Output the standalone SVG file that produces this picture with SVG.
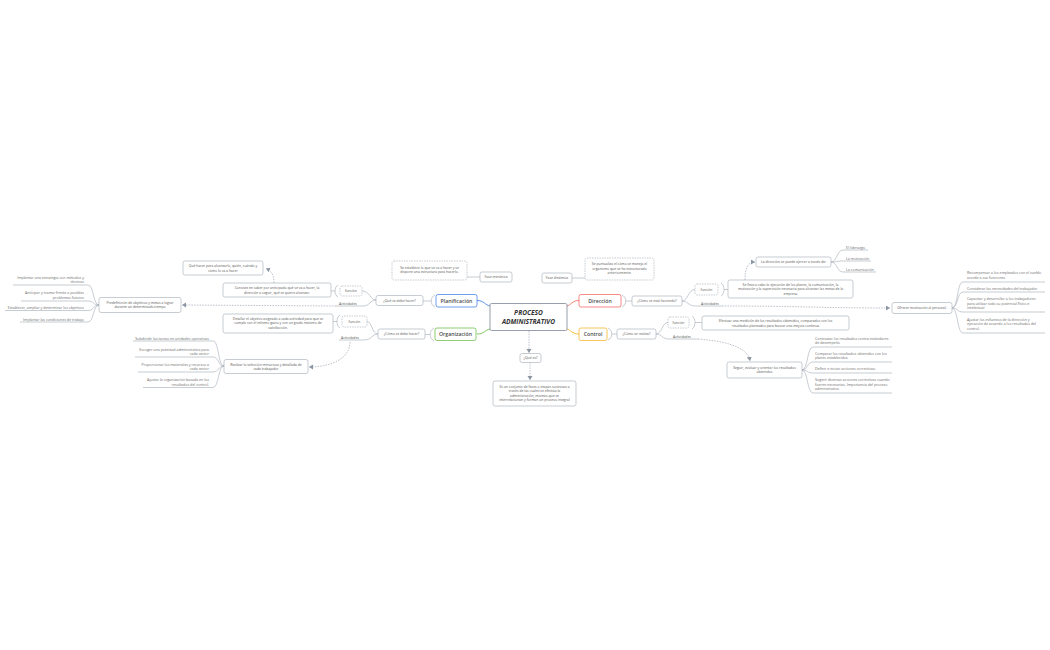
<svg xmlns="http://www.w3.org/2000/svg" width="1050" height="650" viewBox="0 0 1050 650">
<defs>
<marker id="ar" markerWidth="6" markerHeight="6" refX="4" refY="2.5" orient="auto" markerUnits="userSpaceOnUse">
<path d="M0,0 L4,2.5 L0,5 Z" fill="#8c96a3"/>
</marker>
<style>
.bx{fill:#fff;stroke:#a3abb5;stroke-width:0.6}
.db{fill:#fff;stroke:#a3abb5;stroke-width:0.6;stroke-dasharray:1.5,1}
.t{font-family:"Open Sans","Liberation Sans",sans-serif;font-size:3.4px;fill:#555;text-anchor:middle}
.l{font-family:"Open Sans","Liberation Sans",sans-serif;font-size:3.6px;fill:#6b6b6b}
.r{text-anchor:end}
.m{font-family:"Open Sans","Liberation Sans",sans-serif;font-size:5.2px;font-weight:600;fill:#4a4a4a;text-anchor:middle}
.c{font-family:"Open Sans","Liberation Sans",sans-serif;font-size:6.6px;font-weight:700;font-style:italic;fill:#333;text-anchor:middle}
.ln{fill:none;stroke:#a3abb5;stroke-width:0.6}
.dl{fill:none;stroke:#8c96a3;stroke-width:0.6;stroke-dasharray:1.5,1.2}
</style>
</defs>
<rect width="1050" height="650" fill="#fff"/>

<g id="connectors">
<path d="M477,300.5 C484,300.5 485,305 490,306" fill="none" stroke="#4a86e8" stroke-width="0.9"/>
<path d="M579,300.5 C572,300.5 571,305 567,306" fill="none" stroke="#f07067" stroke-width="0.9"/>
<path d="M477,334 C484,334 485,330 490,329" fill="none" stroke="#72c24e" stroke-width="0.9"/>
<path d="M579,334 C572,334 571,330 567,329" fill="none" stroke="#f5b731" stroke-width="0.9"/>
<path class="ln" d="M435,295 C430,297 430,305 435,307 M431,301 L423,301"/>
<path class="ln" d="M434,328 C429,330 429,339 434,341 M430,334.5 L425,334.5"/>
<path class="ln" d="M622,295 C627,297 627,305 622,307 M626,301 L632,301"/>
<path class="ln" d="M608,328 C613,330 613,338 608,340 M612,334 L617,334"/>
<path class="ln" d="M376,300 C370,300 370,291 362,291 M376,300 C370,300 370,306 363,306 L336,306"/>
<path class="ln" d="M338,285 C334,287 334,295 338,297 M335,291 L331,291"/>
<path class="ln" d="M378,334 C372,334 372,321.5 367,321.5 M378,334 C372,334 372,340 364,340 L339,340"/>
<path class="ln" d="M340,315 C336,317 336,326 340,328 M337,321.5 L333,321.5"/>
<path class="ln" d="M682,301 C688,301 688,289.5 695,289.5 M682,301 C688,301 688,306 696,306 L722,306"/>
<path class="ln" d="M721,283 C725,285 725,294 721,296 M724,289.5 L728,289.5"/>
<path class="ln" d="M656,334 C662,334 662,322.5 668,322.5 M656,334 C662,334 662,339 669,339 L698,339"/>
<path class="ln" d="M692,316 C696,318 696,327 692,329 M695,322.5 L702,322.5"/>
<path class="ln" d="M480,277 L467,277 M572,278 L585,278"/>
<path class="dl" marker-end="url(#ar)" d="M274,283 C274,276 272,271 266,268.5"/>
<path class="dl" marker-end="url(#ar)" d="M336,306 L182,305"/>
<path class="dl" marker-end="url(#ar)" d="M350,342 C350,358 332,367 309,367"/>
<path class="dl" marker-end="url(#ar)" d="M722,306 C800,306 820,308 890,308"/>
<path class="dl" marker-end="url(#ar)" d="M745,280 C745,268 748,262 755,262"/>
<path class="dl" marker-end="url(#ar)" d="M698,339 C735,342 748,350 750,361"/>
<path class="dl" marker-end="url(#ar)" d="M529,331 L529,353"/>
<path class="dl" marker-end="url(#ar)" d="M530,362 L530,380"/>
<path class="ln" d="M99,305 C93,305 94,285 88,285 L13,285 M99,305 C93,305 94,301 88,301 L21,301 M99,305 C93,305 94,310.5 88,310.5 L5,310.5 M99,305 C93,305 94,322 88,322 L20,322"/>
<path class="ln" d="M224,366 C218,366 219,341 213,341 L133,341 M224,366 C218,366 219,357 213,357 L135,357 M224,366 C218,366 219,372 213,372 L138,372 M224,366 C218,366 219,387.5 213,387.5 L143,387.5"/>
<path class="ln" d="M831,262 C837,262 837,250 843,250 L868,250 M831,262 C837,262 837,261 843,261 L871,261 M831,262 C837,262 837,272 843,272 L876,272"/>
<path class="ln" d="M952,308 C958,308 957,282 963,282 L1045,282 M952,308 C958,308 957,292 963,292 L1045,292 M952,308 C958,308 957,312 963,312 L1045,312 M952,308 C958,308 957,333 963,333 L1045,333"/>
<path class="ln" d="M802,370 C808,370 807,347 813,347 L892,347 M802,370 C808,370 807,362 813,362 L892,362 M802,370 C808,370 807,373 813,373 L892,373 M802,370 C808,370 807,393 813,393 L892,393"/>
</g>

<g id="center">
<rect x="490" y="303.5" width="77" height="27" rx="1.5" fill="#fff" stroke="#8a94a2" stroke-width="0.9"/>
<text class="c" x="528.5" y="315">PROCESO</text>
<text class="c" x="528.5" y="324">ADMINISTRATIVO</text>
</g>

<g id="planificacion">
<rect x="436" y="294.5" width="41" height="12.5" rx="2" fill="#fff" stroke="#4a86e8" stroke-width="0.8"/>
<text class="m" x="456.5" y="302.5">Planificación</text>
</g>
<g id="direccion">
<rect x="579" y="294.5" width="42" height="12.5" rx="2" fill="#fff" stroke="#f07067" stroke-width="0.8"/>
<text class="m" x="600" y="302.5">Dirección</text>
</g>
<g id="organizacion">
<rect x="435" y="328" width="41" height="12.5" rx="2" fill="#fff" stroke="#72c24e" stroke-width="0.8"/>
<text class="m" x="455.5" y="336">Organización</text>
</g>
<g id="control">
<rect x="579" y="328" width="28" height="12.5" rx="2" fill="#fff" stroke="#f5b731" stroke-width="0.8"/>
<text class="m" x="593" y="336">Control</text>
</g>

<g id="fase-mecanica">
<rect class="bx" x="480" y="272" width="32" height="10" rx="2"/>
<text class="t" x="496" y="278.2">Fase mecánica</text>
</g>
<g id="fase-mecanica-desc">
<rect class="db" x="392" y="261" width="75" height="19" rx="2"/>
<text class="t" x="429.5" y="268.5">Se establece lo que se va a hacer y se</text>
<text class="t" x="429.5" y="273">dispone una estructura para hacerlo.</text>
</g>
<g id="fase-dinamica">
<rect class="bx" x="542" y="273" width="30" height="10" rx="2"/>
<text class="t" x="557" y="279.2">Fase dinámica</text>
</g>
<g id="fase-dinamica-desc">
<rect class="db" x="585" y="258" width="69" height="22" rx="2"/>
<text class="t" x="619.5" y="265">Se puntualiza el cómo se maneja el</text>
<text class="t" x="619.5" y="269.5">organismo que se ha estructurado</text>
<text class="t" x="619.5" y="274">anteriormente.</text>
</g>

<g id="que-es">
<rect class="bx" x="520" y="353.5" width="21" height="9" rx="2"/>
<text class="t" x="530.5" y="359.2">¿Qué es?</text>
</g>
<g id="definicion">
<rect class="bx" x="493" y="381" width="83" height="25" rx="2"/>
<text class="t" x="534.5" y="387.5">Es un conjunto de fases o etapas sucesivas a</text>
<text class="t" x="534.5" y="392">través de las cuales se efectúa la</text>
<text class="t" x="534.5" y="396.5">administración, mismas que se</text>
<text class="t" x="534.5" y="401">interrelacionan y forman un proceso integral</text>
</g>

<g id="que-se-debe-hacer">
<rect class="bx" x="376" y="295.5" width="47" height="10" rx="2"/>
<text class="t" x="399.5" y="301.7">¿Qué se debe hacer?</text>
</g>
<g id="plan-funcion">
<rect class="db" x="340" y="286" width="22" height="10" rx="2"/>
<text class="t" x="351" y="292.2">función</text>
</g>
<g id="plan-actividades">
<text class="t" x="348" y="304.5">Actividades</text>
</g>
<g id="plan-consiste">
<rect class="bx" x="223" y="283" width="108" height="14" rx="2"/>
<text class="t" x="277" y="289">Consiste en saber por anticipado qué se va a hacer, la</text>
<text class="t" x="277" y="293.5">dirección a seguir, qué se quiere alcanzar.</text>
</g>
<g id="plan-que-hacer">
<rect class="bx" x="183" y="261" width="80" height="14" rx="2"/>
<text class="t" x="223" y="267">Qué hacer para alcanzarlo, quién, cuándo y</text>
<text class="t" x="223" y="271.5">cómo lo va a hacer</text>
</g>
<g id="plan-predefinicion">
<rect class="bx" x="99" y="297.5" width="82" height="15" rx="2"/>
<text class="t" x="140" y="303.8">Predefinición de objetivos y metas a lograr</text>
<text class="t" x="140" y="308.3">durante un determinado tiempo</text>
</g>
<g id="plan-lista">
<text class="l r" x="84" y="278.5">Implantar una estrategia con métodos y</text>
<text class="l r" x="84" y="283">técnicas</text>
<text class="l r" x="84" y="294">Anticipar y tramar frente a posibles</text>
<text class="l r" x="84" y="298.7">problemas futuros</text>
<text class="l r" x="84" y="309">Establecer, ampliar y determinar los objetivos</text>
<text class="l r" x="84" y="320.5">Implantar las condiciones de trabajo</text>
</g>

<g id="como-se-debe-hacer">
<rect class="bx" x="378" y="329" width="47" height="10" rx="2"/>
<text class="t" x="401.5" y="335.2">¿Cómo se debe hacer?</text>
</g>
<g id="org-funcion">
<rect class="db" x="342" y="316" width="25" height="11" rx="2"/>
<text class="t" x="354.5" y="322.7">función</text>
</g>
<g id="org-actividades">
<text class="t" x="350" y="338.5">Actividades</text>
</g>
<g id="org-detallar">
<rect class="bx" x="223" y="314" width="110" height="19" rx="2"/>
<text class="t" x="278" y="319.5">Detallar el objetivo asignado a cada actividad para que se</text>
<text class="t" x="278" y="324">cumpla con el mínimo gasto y con un grado máximo de</text>
<text class="t" x="278" y="328.5">satisfacción.</text>
</g>
<g id="org-realizar">
<rect class="bx" x="224" y="359.5" width="84" height="14" rx="2"/>
<text class="t" x="266" y="365.5">Realizar la selección minuciosa y detallada de</text>
<text class="t" x="266" y="370">cada trabajador</text>
</g>
<g id="org-lista">
<text class="l r" x="209" y="339.5">Subdividir las tareas en unidades operativas</text>
<text class="l r" x="209" y="350.5">Escoger una potestad administrativa para</text>
<text class="l r" x="209" y="355">cada sector</text>
<text class="l r" x="209" y="365.5">Proporcionar los materiales y recursos a</text>
<text class="l r" x="209" y="370">cada sector</text>
<text class="l r" x="209" y="381">Ajustar la organización basada en los</text>
<text class="l r" x="209" y="385.5">resultados del control.</text>
</g>

<g id="como-se-esta-haciendo">
<rect class="bx" x="632" y="296" width="50" height="10" rx="2"/>
<text class="t" x="657" y="302.2">¿Cómo se está haciendo?</text>
</g>
<g id="dir-funcion">
<rect class="db" x="695" y="284" width="23" height="11" rx="2"/>
<text class="t" x="706.5" y="290.7">función</text>
</g>
<g id="dir-actividades">
<text class="t" x="710" y="304.5">Actividades</text>
</g>
<g id="dir-se-lleva">
<rect class="bx" x="728" y="280" width="125" height="18" rx="2"/>
<text class="t" x="790.5" y="285.5">Se lleva a cabo la ejecución de los planes, la comunicación, la</text>
<text class="t" x="790.5" y="290">motivación y la supervisión necesaria para alcanzar las metas de la</text>
<text class="t" x="790.5" y="294.5">empresa</text>
</g>
<g id="dir-ejercer">
<rect class="bx" x="756" y="257" width="75" height="10" rx="2"/>
<text class="t" x="793.5" y="263.2">La dirección se puede ejercer a través de:</text>
</g>
<g id="dir-lista-1">
<text class="l" x="846" y="248.5">El liderazgo</text>
<text class="l" x="846" y="259.5">La motivación</text>
<text class="l" x="846" y="270.5">La comunicación</text>
</g>
<g id="dir-ofrecer">
<rect class="bx" x="892" y="302.5" width="60" height="11" rx="2"/>
<text class="t" x="922" y="309.2">Ofrecer motivación al personal.</text>
</g>
<g id="dir-lista-2">
<text class="l" x="967" y="274">Recompensar a los empleados con el sueldo</text>
<text class="l" x="967" y="278.5">acorde a sus funciones</text>
<text class="l" x="967" y="290">Considerar las necesidades del trabajador</text>
<text class="l" x="967" y="300">Capacitar y desarrollar a los trabajadores</text>
<text class="l" x="967" y="304.5">para utilizar todo su potencial físico e</text>
<text class="l" x="967" y="309">intelectual</text>
<text class="l" x="967" y="320.5">Ajustar los esfuerzos de la dirección y</text>
<text class="l" x="967" y="325">ejecución de acuerdo a los resultados del</text>
<text class="l" x="967" y="329.5">control.</text>
</g>

<g id="como-se-realiza">
<rect class="bx" x="617" y="329" width="39" height="10" rx="2"/>
<text class="t" x="636.5" y="335.2">¿Cómo se realiza?</text>
</g>
<g id="ctrl-funcion">
<rect class="db" x="668" y="317" width="21" height="11" rx="2"/>
<text class="t" x="678.5" y="323.7">función</text>
</g>
<g id="ctrl-actividades">
<text class="t" x="682" y="337.5">Actividades</text>
</g>
<g id="ctrl-efectuar">
<rect class="bx" x="702" y="316" width="147" height="14" rx="2"/>
<text class="t" x="775.5" y="322">Efectuar una medición de los resultados obtenidos, comparados con los</text>
<text class="t" x="775.5" y="326.5">resultados planeados para buscar una mejora continua</text>
</g>
<g id="ctrl-seguir">
<rect class="bx" x="727" y="362" width="75" height="16" rx="2"/>
<text class="t" x="764.5" y="368.5">Seguir, evaluar y orientar los resultados</text>
<text class="t" x="764.5" y="373">obtenidos</text>
</g>
<g id="ctrl-lista">
<text class="l" x="815" y="339.5">Contrastar los resultados contra estándares</text>
<text class="l" x="815" y="344">de desempeño</text>
<text class="l" x="815" y="354.5">Comparar los resultados obtenidos con los</text>
<text class="l" x="815" y="359">planes establecidos</text>
<text class="l" x="815" y="370">Definir e iniciar acciones correctivas.</text>
<text class="l" x="815" y="381">Sugerir diversas acciones correctivas cuando</text>
<text class="l" x="815" y="385.5">fueren necesarias. Importancia del proceso</text>
<text class="l" x="815" y="390">administrativo</text>
</g>
</svg>
